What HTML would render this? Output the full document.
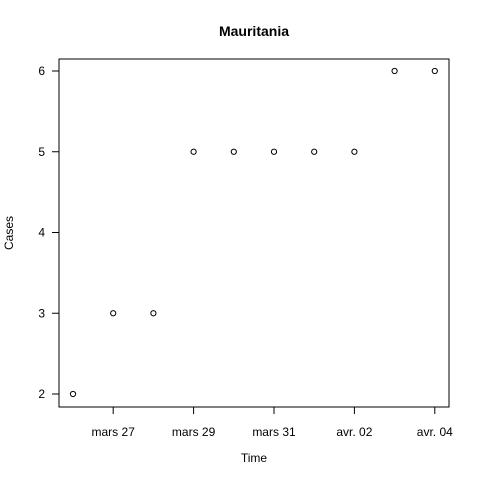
<!DOCTYPE html>
<html><head><meta charset="utf-8"><style>
body{margin:0;background:#fff}
svg text{font-family:"Liberation Sans",Arial,sans-serif;fill:#000}
</style></head><body>
<svg width="480" height="480" viewBox="0 0 480 480">
<rect width="480" height="480" fill="#fff"/>
<text x="254" y="36" text-anchor="middle" font-weight="bold" font-size="14">Mauritania</text>
<rect x="59" y="59" width="390" height="348" fill="none" stroke="#000" stroke-width="1"/>
<g id="xaxis"></g>
<g id="yaxis"></g>
<g id="pts"></g>
<text x="254" y="462" text-anchor="middle" font-size="12">Time</text>
<text x="0" y="0" transform="translate(13,233) rotate(-90)" text-anchor="middle" font-size="12">Cases</text>
</svg>
<script>
const days=[0,1,2,3,4,5,6,7,8,9];
const cases=[2,3,3,5,5,5,5,5,6,6];
const xTickDays=[1,3,5,7,9];
const xTickLabels=["mars 27","mars 29","mars 31","avr. 02","avr. 04"];
const yTicks=[2,3,4,5,6];
const NS="http://www.w3.org/2000/svg";
function X(d){return 73+d*40.2;}
function Y(v){return 394-(v-2)*80.75;}
function mk(t,a){const e=document.createElementNS(NS,t);for(const k in a)e.setAttribute(k,a[k]);return e;}
const xa=document.getElementById('xaxis'),ya=document.getElementById('yaxis'),pts=document.getElementById('pts');
xa.appendChild(mk('line',{x1:X(xTickDays[0]),x2:X(xTickDays[xTickDays.length-1]),y1:407,y2:407,stroke:'#000'}));
xTickDays.forEach((d,i)=>{
 const l=mk('line',{x1:X(d),x2:X(d),y1:407,y2:414,stroke:'#000'});
 
 
 xa.appendChild(l);
 const t=mk('text',{x:X(d),y:436,'text-anchor':'middle','font-size':12});
 t.textContent=xTickLabels[i];
 
 
 xa.appendChild(t);
});
ya.appendChild(mk('line',{x1:59,x2:59,y1:Y(yTicks[0]),y2:Y(yTicks[yTicks.length-1]),stroke:'#000'}));
yTicks.forEach(v=>{
 const l=mk('line',{x1:52,x2:59,y1:Y(v),y2:Y(v),stroke:'#000'});
 
 
 ya.appendChild(l);
 const t=mk('text',{x:45,y:Y(v)+4,'text-anchor':'end','font-size':12});
 t.textContent=v;
 
 
 ya.appendChild(t);
});
days.forEach((d,i)=>{
 const c=mk('circle',{cx:X(d),cy:Y(cases[i]),r:2.6,fill:'none',stroke:'#000','stroke-width':1});
 
 
 pts.appendChild(c);
});
</script>
</body></html>
